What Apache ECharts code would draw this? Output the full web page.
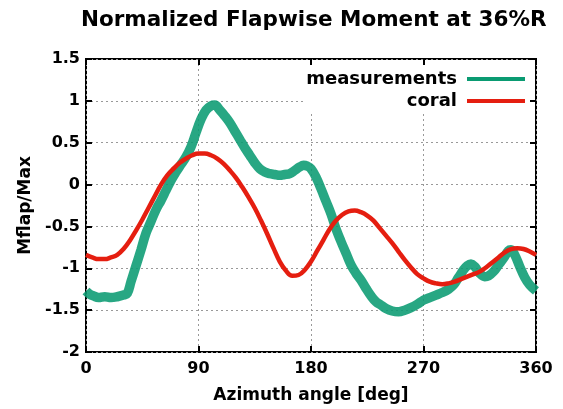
<!DOCTYPE html>
<html>
<head>
<meta charset="utf-8">
<script src="https://cdn.jsdelivr.net/npm/echarts@6/dist/echarts.min.js"></script>
<style>
html,body{margin:0;padding:0;background:#fff;}
#chart{width:563px;height:409px;}
</style>
</head>
<body>
<div id="chart"></div>
<script>
// ---- data ----
const titleText = 'Normalized Flapwise Moment at 36%R';
const xName = 'Azimuth angle [deg]';
const yName = 'Mflap/Max';
const xTicks = [0, 90, 180, 270, 360];
const yTicks = [-2, -1.5, -1, -0.5, 0, 0.5, 1, 1.5];
const seriesNames = ['measurements', 'coral'];

const measAngle = [0,3,6,10,15,20,25,30,33,36,40,44,48,52,56,60,64,68,72,76,80,84,88,92,96,100,103,107,111,115,119,123,127,131,135,139,143,147,151,155,159,163,167,171,174,177,180,184,188,192,196,200,204,208,212,216,220,224,228,232,236,240,245,250,255,260,265,270,275,280,285,290,294,298,302,305,308,311,315,319,322,326,330,334,338,340,343,347,351,355,360];
const measValue = [-1.27,-1.31,-1.33,-1.35,-1.34,-1.35,-1.34,-1.32,-1.30,-1.16,-0.97,-0.78,-0.58,-0.44,-0.30,-0.19,-0.07,0.05,0.15,0.24,0.33,0.45,0.62,0.78,0.89,0.94,0.95,0.89,0.82,0.74,0.64,0.54,0.44,0.35,0.26,0.19,0.15,0.13,0.12,0.11,0.12,0.13,0.17,0.21,0.23,0.22,0.19,0.09,-0.05,-0.20,-0.35,-0.53,-0.68,-0.82,-0.96,-1.06,-1.14,-1.24,-1.33,-1.40,-1.44,-1.48,-1.51,-1.52,-1.50,-1.47,-1.43,-1.38,-1.35,-1.32,-1.29,-1.25,-1.20,-1.11,-1.02,-0.97,-0.95,-0.98,-1.06,-1.10,-1.09,-1.04,-0.96,-0.88,-0.79,-0.78,-0.84,-0.98,-1.11,-1.20,-1.27];

const coralAngle = [0,5,10,15,20,25,30,35,40,45,50,55,60,65,70,75,80,85,90,95,100,105,110,115,120,125,130,135,140,145,150,155,160,165,170,175,180,185,190,195,200,205,210,215,220,225,230,235,240,245,250,255,260,265,270,275,280,285,290,295,300,305,310,315,320,325,330,335,340,345,350,355,360];
const coralValue = [-0.84,-0.87,-0.89,-0.89,-0.87,-0.84,-0.77,-0.67,-0.55,-0.42,-0.28,-0.14,0.0,0.11,0.19,0.26,0.31,0.35,0.37,0.37,0.35,0.31,0.25,0.17,0.08,-0.03,-0.15,-0.28,-0.43,-0.59,-0.76,-0.92,-1.03,-1.09,-1.08,-1.02,-0.92,-0.79,-0.66,-0.53,-0.43,-0.36,-0.32,-0.31,-0.33,-0.37,-0.43,-0.52,-0.61,-0.70,-0.80,-0.90,-0.99,-1.07,-1.12,-1.16,-1.18,-1.19,-1.18,-1.16,-1.13,-1.10,-1.07,-1.04,-0.99,-0.93,-0.87,-0.81,-0.77,-0.76,-0.77,-0.80,-0.84];

const FONT = 'DejaVu Sans';
const measData = measAngle.map((a, i) => [a, measValue[i]]);
const coralData = coralAngle.map((a, i) => [a, coralValue[i]]);

const chart = echarts.init(document.getElementById('chart'), null, {renderer: 'canvas'});
const xInt = xTicks[1] - xTicks[0];
const yInt = yTicks[1] - yTicks[0];
const tickStyle = {show: true, inside: true, length: 6, lineStyle: {color: '#000', width: 2}};
const noLine = {show: false, onZero: false};

chart.setOption({
  animation: false,
  backgroundColor: '#fff',
  title: {
    text: titleText, left: 81, top: 9, padding: 0,
    textStyle: {fontFamily: FONT, fontWeight: 'bold', fontSize: 21.5, color: '#000'}
  },
  grid: {left: 86, right: 27, top: 59, bottom: 53, show: true, borderColor: '#000', borderWidth: 2, backgroundColor: 'transparent'},
  legend: [
    {data: [seriesNames[0]], right: 38, top: 69, padding: 0, align: 'right', icon: 'rect', itemWidth: 58, itemHeight: 4, z: 5,
     textStyle: {fontFamily: FONT, fontWeight: 'bold', fontSize: 18, color: '#000', lineHeight: 20, padding: [0, 5, 0, 0]}},
    {data: [seriesNames[1]], right: 38, top: 91, padding: 0, align: 'right', icon: 'rect', itemWidth: 58, itemHeight: 4, z: 5,
     textStyle: {fontFamily: FONT, fontWeight: 'bold', fontSize: 18, color: '#000', lineHeight: 20, padding: [0, 5, 0, 0]}}
  ],
  graphic: [{type: 'rect', shape: {x: 305, y: 61, width: 229, height: 51}, style: {fill: '#fff'}, z: 1, silent: true}],
  xAxis: [
    {type: 'value', min: xTicks[0], max: xTicks[xTicks.length - 1], interval: xInt, position: 'bottom',
     name: xName, nameLocation: 'middle', nameGap: 35,
     nameTextStyle: {fontFamily: FONT, fontWeight: 'bold', fontSize: 17, color: '#000'},
     axisLine: noLine, axisTick: tickStyle,
     axisLabel: {fontFamily: FONT, fontWeight: 'bold', fontSize: 16, color: '#000', margin: 9},
     splitLine: {show: true, lineStyle: {color: '#999', width: 1, type: [2, 3]}}},
    {type: 'value', min: xTicks[0], max: xTicks[xTicks.length - 1], interval: xInt, position: 'top', z: 3,
     axisLine: noLine, axisTick: tickStyle, axisLabel: {show: false}, splitLine: {show: false}}
  ],
  yAxis: [
    {type: 'value', min: yTicks[0], max: yTicks[yTicks.length - 1], interval: yInt, position: 'left',
     name: yName, nameLocation: 'middle', nameGap: 45,
     nameTextStyle: {fontFamily: FONT, fontWeight: 'bold', fontSize: 17, color: '#000'},
     axisLine: noLine, axisTick: tickStyle,
     axisLabel: {fontFamily: FONT, fontWeight: 'bold', fontSize: 16, color: '#000', margin: 6},
     splitLine: {show: true, lineStyle: {color: '#999', width: 1, type: [2, 3]}}},
    {type: 'value', min: yTicks[0], max: yTicks[yTicks.length - 1], interval: yInt, position: 'right', z: 3,
     axisLine: noLine, axisTick: tickStyle, axisLabel: {show: false}, splitLine: {show: false}}
  ],
  series: [
    {name: seriesNames[0], type: 'line', data: measData, xAxisIndex: 0, yAxisIndex: 0, smooth: 0.4,
     showSymbol: false, symbol: 'none', z: 2,
     lineStyle: {color: '#0a9b72', width: 9.5, opacity: 0.88}, itemStyle: {color: '#0a9b72'}},
    {name: seriesNames[1], type: 'line', data: coralData, xAxisIndex: 0, yAxisIndex: 0, smooth: 0.4,
     showSymbol: false, symbol: 'none', z: 3,
     lineStyle: {color: '#e51e10', width: 4.5}, itemStyle: {color: '#e51e10'}}
  ]
});
</script>
</body>
</html>
